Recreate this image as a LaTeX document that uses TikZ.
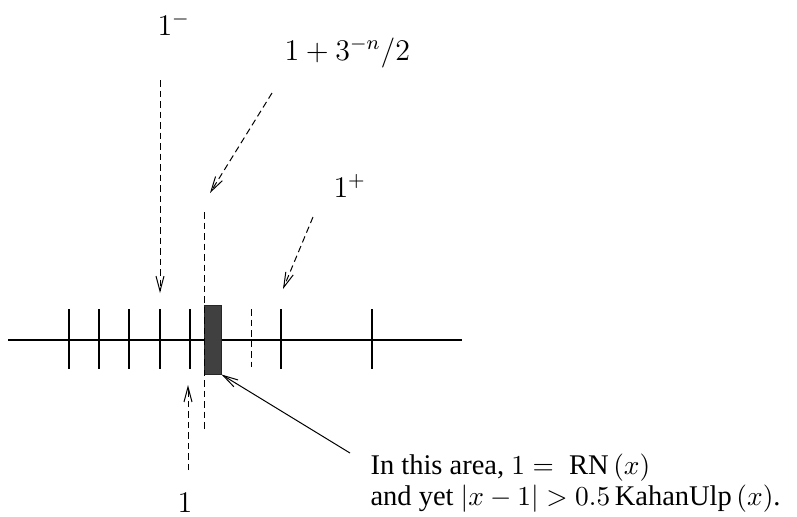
\documentclass[tikz,border=0pt]{standalone}
\usepackage[no-math]{fontspec}
\setmainfont{Liberation Serif}
\usetikzlibrary{arrows.meta}
\begin{document}
\begin{tikzpicture}[x=0.4pt,y=-0.4pt, every node/.style={font=\fontsize{12}{12.4}\selectfont,inner sep=0pt},
  axis/.style={line width=0.8pt},
  dsh/.style={line width=0.4pt,dash pattern=on 2.6pt off 1.6pt},
  ptr/.style={dsh,-{Straight Barb[length=6pt,width=3.2pt]}},
  lead/.style={line width=0.4pt,-{Straight Barb[length=6pt,width=3.2pt]}}]
\useasboundingbox (0,0) rectangle (797,516);
% number line
\coordinate (l) at (8,340); \coordinate (r) at (462,340);
\draw[axis] (l) -- (r);
\draw[axis] (69,309) -- (69,369); \draw[axis] (99,309) -- (99,369); \draw[axis] (129,309) -- (129,369);
\draw[axis] (160,309) -- (160,369); \draw[axis] (190,309) -- (190,369);
\draw[axis] (281,309) -- (281,369); \draw[axis] (372,309) -- (372,369);
\draw[dsh] (251,309) -- (251,367);
\node[draw=black!85,fill=black!75,line width=0.4pt,minimum width=6.8pt,minimum height=27.6pt] (area) at (212.5,339.5) {};
\coordinate (top) at (204,212); \coordinate (bot) at (204,430);
\draw[dsh] (top) -- (bot);
% labels
\node[anchor=base west] (lminus) at (157,35) {$1^-$};
\node[anchor=base west] (lmid) at (284,60) {$1+3^{-n}/2$};
\node[anchor=base west] (lplus) at (333,197) {$1^+$};
\node[anchor=base west] (lone) at (177,512) {$1$};
\node[anchor=north west,align=left,font=\fontsize{11.4}{12.6}\selectfont] (note) at (370,453) {In this area, $1 = \;\mbox{RN}\,(x)$\\ and yet $|x-1| > 0.5\,\mbox{KahanUlp}\,(x)$.};
% pointers
\coordinate (sminus) at (160,80); \coordinate (tminus) at (160,293);
\coordinate (smid) at (272,93); \coordinate (tmid) at (210,193);
\coordinate (splus) at (313,217); \coordinate (tplus) at (283,289);
\coordinate (sone) at (188,470); \coordinate (tone) at (188,385);
\coordinate (snote) at (350,453);
\draw[ptr] (sminus) -- (tminus);
\draw[ptr] (smid) -- (tmid);
\draw[ptr] (splus) -- (tplus);
\draw[ptr] (sone) -- (tone);
\draw[lead] (snote) -- (area.south east);
\end{tikzpicture}
\end{document}
